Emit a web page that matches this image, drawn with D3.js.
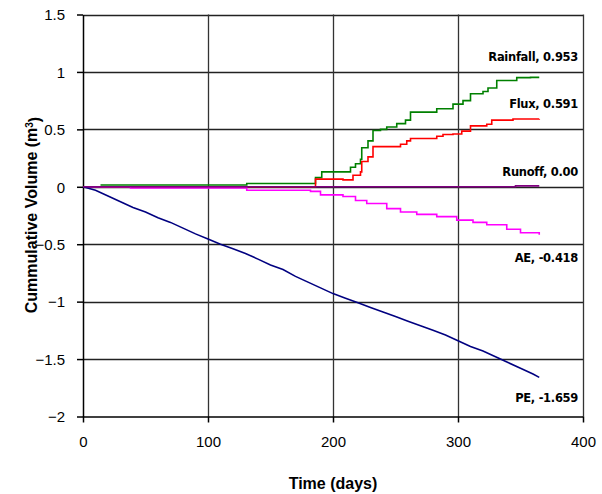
<!DOCTYPE html>
<html>
<head>
<meta charset="utf-8">
<script src="https://cdn.jsdelivr.net/npm/d3@7"></script>
<style>
  body { margin: 0; background: #fff; }
  svg { display: block; }
  .tick text { font-family: "Liberation Sans", Arial, sans-serif; font-size: 15px; fill: #000; }
  .lbl { font-family: "DejaVu Sans", sans-serif; font-size: 11.5px; font-weight: bold; letter-spacing: -0.3px; }
</style>
</head>
<body>
<svg width="602" height="494"></svg>
<script>
// cumulative volumes, [day, m3]
var rainfall = [[14,0.015],[130,0.015],[131,0.028],[185,0.028],[186,0.08],[190,0.08],[191,0.13],[208,0.13],[214,0.17],[218,0.2],[222,0.24],[223,0.34],[228,0.4],[232,0.49],[238,0.5],[243,0.52],[251,0.55],[258,0.58],[262,0.65],[282,0.65],[283,0.68],[296,0.72],[304,0.75],[310,0.81],[320,0.83],[324,0.86],[331,0.925],[347,0.95],[358,0.953],[365,0.953]];
var flux = [[14,0],[185,0],[186,0.067],[208,0.06],[216,0.1],[222,0.13],[223,0.22],[228,0.26],[232,0.35],[244,0.35],[254,0.37],[259,0.4],[262,0.42],[282,0.42],[283,0.44],[288,0.455],[296,0.46],[303,0.485],[310,0.53],[323,0.545],[327,0.58],[344,0.59],[365,0.591]];
var runoff = [[0,0],[345,0],[346,0.008],[365,0.008]];
var ae = [[0,0],[38,-0.01],[130,-0.01],[131,-0.03],[182,-0.04],[190,-0.07],[200,-0.07],[208,-0.085],[218,-0.12],[227,-0.145],[243,-0.19],[254,-0.22],[267,-0.24],[283,-0.26],[299,-0.29],[312,-0.31],[323,-0.33],[339,-0.37],[350,-0.4],[365,-0.418]];
var pe = [[0,0],[10,-0.03],[20,-0.08],[30,-0.13],[40,-0.18],[50,-0.22],[60,-0.27],[70,-0.31],[80,-0.36],[90,-0.41],[100,-0.455],[110,-0.5],[120,-0.54],[130,-0.58],[140,-0.63],[150,-0.68],[160,-0.72],[170,-0.78],[180,-0.83],[190,-0.88],[200,-0.93],[210,-0.97],[220,-1.01],[230,-1.05],[240,-1.09],[250,-1.13],[260,-1.17],[270,-1.21],[280,-1.25],[290,-1.29],[300,-1.34],[310,-1.39],[320,-1.43],[330,-1.48],[340,-1.53],[350,-1.58],[360,-1.63],[365,-1.659]];

var xTicks = [0, 100, 200, 300, 400];
var yTicks = [-2, -1.5, -1, -0.5, 0, 0.5, 1, 1.5];

var series = [
  {name: "Rainfall, 0.953", values: rainfall, color: "#008000", ly: 61, step: true},
  {name: "Flux, 0.591", values: flux, color: "#ff0000", ly: 108, step: true},
  {name: "AE, -0.418", values: ae, color: "#ff00ff", ly: 262, step: true},
  {name: "PE, -1.659", values: pe, color: "#000080", ly: 402, step: false},
  {name: "Runoff, 0.00", values: runoff, color: "#800080", ly: 176, step: true}
];

var svg = d3.select("svg");
var x = d3.scaleLinear().domain([0, 400]).range([83, 583]),
    y = d3.scaleLinear().domain([-2, 1.5]).range([416.5, 14.5]);

// grid
svg.append("g").selectAll("line").data(yTicks.filter(function(d){ return d > -2; }))
  .enter().append("line")
    .attr("x1", x(0)).attr("x2", x(400))
    .attr("y1", function(d){ return Math.round(y(d)) + 0.5; })
    .attr("y2", function(d){ return Math.round(y(d)) + 0.5; })
    .attr("stroke", "#222").attr("stroke-width", 1.3);
svg.append("g").selectAll("line").data(xTicks.filter(function(d){ return d > 0; }))
  .enter().append("line")
    .attr("y1", y(-2)).attr("y2", y(1.5))
    .attr("x1", function(d){ return Math.round(x(d)) + 0.5; })
    .attr("x2", function(d){ return Math.round(x(d)) + 0.5; })
    .attr("stroke", "#333").attr("stroke-width", 1.3);

// axes
var xAxis = svg.append("g")
    .attr("transform", "translate(0," + y(-2) + ")")
    .call(d3.axisBottom(x).tickValues(xTicks).tickSize(6).tickPadding(14).tickSizeOuter(0));
var yAxis = svg.append("g")
    .attr("transform", "translate(" + x(0) + ",0)")
    .call(d3.axisLeft(y).tickValues(yTicks).tickSize(6).tickPadding(12).tickSizeOuter(0)
      .tickFormat(function(d){ return d3.format("")(d); }));
[xAxis, yAxis].forEach(function(a){
  a.selectAll("path, line").attr("stroke", "#000").attr("stroke-width", 1.5);
});
yAxis.selectAll(".tick text").attr("dy", "0.35em");

// lines
series.forEach(function(s){
  var line = d3.line()
    .x(function(d){ return x(d[0]); })
    .y(function(d){ return y(d[1]); })
    .curve(s.step ? d3.curveStepAfter : d3.curveLinear);
  svg.append("path")
    .attr("d", line(s.values))
    .attr("fill", "none")
    .attr("stroke", s.color)
    .attr("stroke-width", 1.6);
  svg.append("text")
    .attr("class", "lbl")
    .attr("x", 578)
    .attr("y", s.ly)
    .attr("text-anchor", "end")
    .text(s.name);
});

// titles
svg.append("text")
  .attr("x", x(200)).attr("y", 489)
  .attr("text-anchor", "middle")
  .style("font", "bold 16px 'Liberation Sans', Arial, sans-serif")
  .text("Time (days)");

var yt = svg.append("text")
  .attr("transform", "translate(37,215) rotate(-90)")
  .attr("text-anchor", "middle")
  .style("font", "bold 16px 'Liberation Sans', Arial, sans-serif");
yt.append("tspan").text("Cummulative Volume (m");
yt.append("tspan").attr("dy", "-0.45em").style("font-size", "10px").text("3");
yt.append("tspan").attr("dy", "0.45em").text(")");
</script>
</body>
</html>
